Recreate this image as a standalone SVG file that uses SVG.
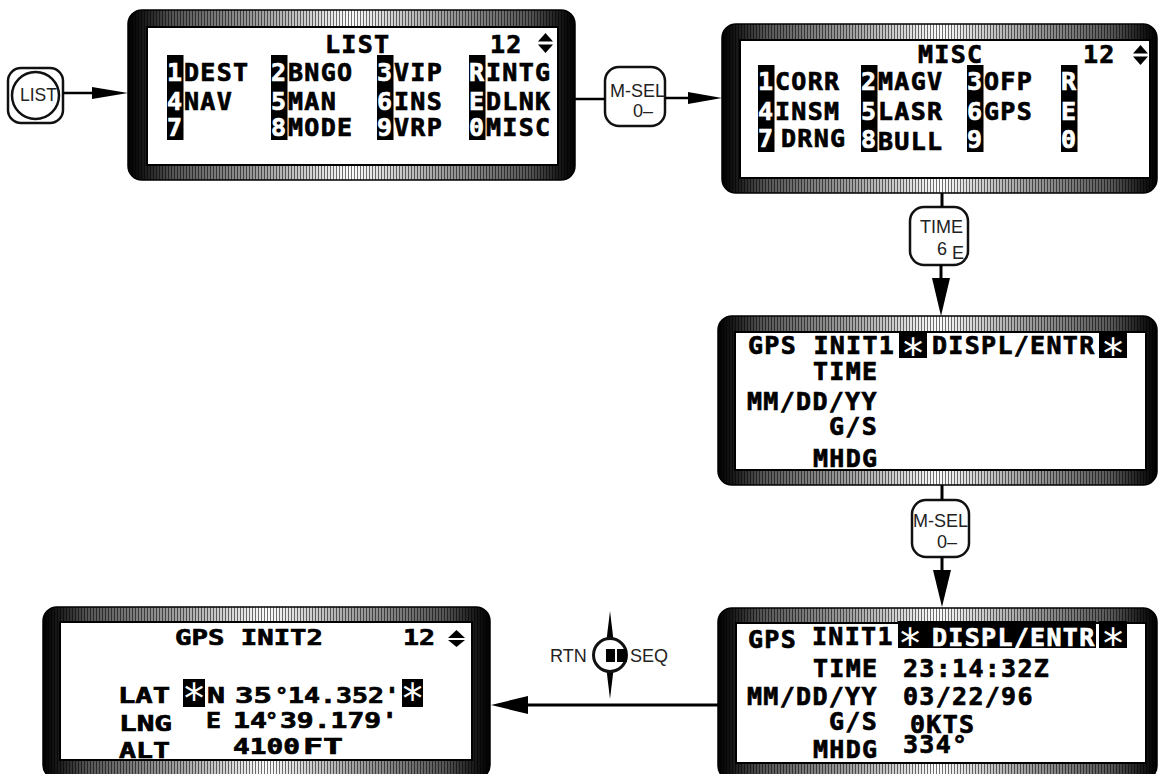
<svg xmlns="http://www.w3.org/2000/svg" width="1158" height="774" viewBox="0 0 1158 774">
<defs>
<linearGradient id="bezGrad" x1="0" y1="0" x2="1" y2="0">
<stop offset="0" stop-color="#000"/>
<stop offset="0.035" stop-color="#1a1a1a"/>
<stop offset="0.1" stop-color="#555"/>
<stop offset="0.3" stop-color="#a0a0a0"/>
<stop offset="0.5" stop-color="#fcfcfc"/>
<stop offset="0.7" stop-color="#a0a0a0"/>
<stop offset="0.9" stop-color="#555"/>
<stop offset="0.965" stop-color="#1a1a1a"/>
<stop offset="1" stop-color="#000"/>
</linearGradient>
<pattern id="stripes" width="3" height="10" patternUnits="userSpaceOnUse">
<rect x="0" y="0" width="1" height="10" fill="#000" fill-opacity="0.55"/>
</pattern>
<style>
.lcd{font-family:"DejaVu Sans Mono","Liberation Mono",monospace;font-weight:bold;font-size:25px;letter-spacing:1.3px;fill:#000;stroke:#000;stroke-width:0.7px}
.p5{font-family:"DejaVu Sans Mono","Liberation Mono",monospace;font-weight:bold;font-size:22px;fill:#000;stroke:#000;stroke-width:0.7px}
.inv{fill:#fff;stroke:#fff}
.ast{font-family:"DejaVu Sans Mono","Liberation Mono",monospace;font-size:40px;fill:#fff;text-anchor:middle}
.lbl{font-family:"Liberation Sans",Arial,sans-serif;font-size:18px;fill:#222}
.bez{fill:url(#bezGrad);stroke:#000;stroke-width:1.5}
.str{fill:url(#stripes)}
.scr{fill:#fff;stroke:#000;stroke-width:2}
.btn{fill:#fff;stroke:#111;stroke-width:2.5}
.ln{stroke:#000;stroke-width:2.5;fill:none}
.lnb{stroke:#000;stroke-width:3;fill:none}
.key{fill:#000}
.head{fill:#000}
</style>
</defs>
<rect width="1158" height="774" fill="#fff"/>

<g id="btn-list">
<rect class="btn" x="8" y="68" width="55" height="55" rx="13" stroke-width="3"/>
<circle cx="35.5" cy="95.5" r="23.5" fill="#fff" stroke="#111" stroke-width="2.5"/>
<text class="lbl" x="20" y="101" font-size="20" textLength="37" lengthAdjust="spacingAndGlyphs">LIST</text>
</g>

<g id="panel-list">
<rect class="bez" x="128" y="10" width="447" height="170" rx="14"/>
<rect class="str" x="128" y="10" width="447" height="170" rx="14"/>
<rect class="scr" x="147" y="27" width="411" height="138"/>
<text class="lcd" x="325" y="53">LIST</text>
<text class="lcd" x="490" y="53">12</text>
<polygon class="key" points="545.5,33 538,41.5 553,41.5"/>
<polygon class="key" points="538,44.5 553,44.5 545.5,53"/>
<rect class="key" x="167" y="55" width="16.5" height="85"/>
<rect class="key" x="271" y="55" width="16.5" height="85"/>
<rect class="key" x="377" y="55" width="16.5" height="85"/>
<rect class="key" x="469" y="55" width="16.5" height="85"/>
<text class="lcd inv" x="167" y="81">1</text><text class="lcd" x="184" y="81">DEST</text>
<text class="lcd inv" x="271" y="81">2</text><text class="lcd" x="288" y="81">BNGO</text>
<text class="lcd inv" x="377" y="81">3</text><text class="lcd" x="394" y="81">VIP</text>
<text class="lcd inv" x="469" y="81">R</text><text class="lcd" x="486" y="81">INTG</text>
<text class="lcd inv" x="167" y="110">4</text><text class="lcd" x="184" y="110">NAV</text>
<text class="lcd inv" x="271" y="110">5</text><text class="lcd" x="288" y="110">MAN</text>
<text class="lcd inv" x="377" y="110">6</text><text class="lcd" x="394" y="110">INS</text>
<text class="lcd inv" x="469" y="110">E</text><text class="lcd" x="486" y="110">DLNK</text>
<text class="lcd inv" x="167" y="136">7</text>
<text class="lcd inv" x="271" y="136">8</text><text class="lcd" x="288" y="136">MODE</text>
<text class="lcd inv" x="377" y="136">9</text><text class="lcd" x="394" y="136">VRP</text>
<text class="lcd inv" x="469" y="136">0</text><text class="lcd" x="486" y="136">MISC</text>
</g>

<g id="btn-msel-1">
<rect class="btn" x="605" y="67" width="60" height="59" rx="14"/>
<text class="lbl" x="610" y="97">M-SEL</text>
<text class="lbl" x="633" y="117">0–</text>
</g>

<g id="panel-misc">
<rect class="bez" x="722" y="24" width="435" height="169" rx="14"/>
<rect class="str" x="722" y="24" width="435" height="169" rx="14"/>
<rect class="scr" x="740" y="40" width="410" height="138"/>
<text class="lcd" x="918" y="63">MISC</text>
<text class="lcd" x="1083" y="63">12</text>
<polygon class="key" points="1140.5,45 1133,53.5 1148,53.5"/>
<polygon class="key" points="1133,56.5 1148,56.5 1140.5,65"/>
<rect class="key" x="758" y="65" width="16.5" height="87"/>
<rect class="key" x="861" y="65" width="16.5" height="87"/>
<rect class="key" x="967" y="65" width="16.5" height="87"/>
<rect class="key" x="1061" y="65" width="16.5" height="87"/>
<text class="lcd inv" x="758" y="90">1</text><text class="lcd" x="775" y="90">CORR</text>
<text class="lcd inv" x="861" y="90">2</text><text class="lcd" x="878" y="90">MAGV</text>
<text class="lcd inv" x="967" y="90">3</text><text class="lcd" x="984" y="90">OFP</text>
<text class="lcd inv" x="1061" y="90">R</text>
<text class="lcd inv" x="758" y="120">4</text><text class="lcd" x="775" y="120">INSM</text>
<text class="lcd inv" x="861" y="120">5</text><text class="lcd" x="878" y="120">LASR</text>
<text class="lcd inv" x="967" y="120">6</text><text class="lcd" x="984" y="120">GPS</text>
<text class="lcd inv" x="1061" y="120">E</text>
<text class="lcd inv" x="758" y="147">7</text><text class="lcd" x="781" y="147">DRNG</text>
<text class="lcd inv" x="861" y="148">8</text><text class="lcd" x="878" y="150">BULL</text>
<text class="lcd inv" x="967" y="148">9</text>
<text class="lcd inv" x="1061" y="148">0</text>
</g>

<g id="btn-time">
<rect class="btn" x="910" y="207" width="58" height="58" rx="14"/>
<text class="lbl" x="920" y="233">TIME</text>
<text class="lbl" x="937" y="255">6</text>
<text class="lbl" x="952" y="259" font-size="16">E</text>
</g>

<g id="panel-gps-init1">
<rect class="bez" x="718" y="316" width="439" height="169" rx="14"/>
<rect class="str" x="718" y="316" width="439" height="169" rx="14"/>
<rect class="scr" x="735" y="332" width="411" height="138"/>
<text class="lcd" x="748" y="354">GPS INIT1</text>
<rect class="key" x="899" y="332" width="28" height="26"/>
<text class="ast" x="913" y="368">*</text>
<text class="lcd" x="932" y="354">DISPL/ENTR</text>
<rect class="key" x="1099" y="332" width="28" height="26"/>
<text class="ast" x="1113" y="368">*</text>
<text class="lcd" x="813" y="380">TIME</text>
<text class="lcd" x="747" y="410">MM/DD/YY</text>
<text class="lcd" x="829" y="435">G/S</text>
<text class="lcd" x="813" y="467">MHDG</text>
</g>

<g id="btn-msel-2">
<rect class="btn" x="912" y="500" width="57" height="57" rx="14"/>
<text class="lbl" x="913" y="527">M-SEL</text>
<text class="lbl" x="937" y="548">0–</text>
</g>

<g id="panel-gps-init1-data">
<rect class="bez" x="718" y="608" width="439" height="172" rx="14"/>
<rect class="str" x="718" y="608" width="439" height="172" rx="14"/>
<rect class="scr" x="736" y="623" width="410" height="140"/>
<text class="lcd" x="748" y="648">GPS</text>
<text class="lcd" x="812" y="645">INIT1</text>
<rect class="key" x="898" y="621" width="198" height="27"/>
<text class="ast" x="910" y="658">*</text>
<text class="lcd inv" x="932" y="646">DISPL/ENTR</text>
<rect class="key" x="1099" y="621" width="28" height="27"/>
<text class="ast" x="1113" y="658">*</text>
<text class="lcd" x="813" y="677">TIME</text>
<text class="lcd" x="903" y="677">23:14:32Z</text>
<text class="lcd" x="747" y="705">MM/DD/YY</text>
<text class="lcd" x="903" y="705">03/22/96</text>
<text class="lcd" x="829" y="730">G/S</text>
<text class="lcd" x="910" y="733">0KTS</text>
<text class="lcd" x="813" y="758">MHDG</text>
<text class="lcd" x="903" y="753">334°</text>
</g>

<g id="ctrl-rtn-seq">
<polygon class="key" points="610,611 606.5,640 613.5,640"/>
<polygon class="key" points="606.5,670 613.5,670 610,699"/>
<circle cx="610" cy="655" r="16.5" fill="#fff" stroke="#111" stroke-width="3"/>
<rect class="key" x="606" y="649" width="9" height="13"/>
<rect class="key" x="617" y="649" width="10" height="13"/>
<text class="lbl" x="550" y="662" font-size="17">RTN</text>
<text class="lbl" x="630" y="662" font-size="17">SEQ</text>
</g>

<g id="panel-gps-init2">
<rect class="bez" x="43" y="607" width="447" height="172" rx="14"/>
<rect class="str" x="43" y="607" width="447" height="172" rx="14"/>
<rect class="scr" x="60" y="622" width="412" height="138"/>
<text class="p5" x="175" y="645" textLength="148" lengthAdjust="spacingAndGlyphs">GPS INIT2</text>
<text class="p5" x="403" y="645" textLength="32" lengthAdjust="spacingAndGlyphs">12</text>
<polygon class="key" points="456.5,630 448,638 465,638"/>
<polygon class="key" points="448,640 465,640 456.5,647"/>
<text class="p5" x="118" y="703" textLength="52" lengthAdjust="spacingAndGlyphs">LAT</text>
<rect class="key" x="183" y="679" width="22" height="28"/>
<text class="ast" x="194" y="713" font-size="34">*</text>
<text class="p5" x="207" y="703" textLength="18" lengthAdjust="spacingAndGlyphs">N</text>
<text class="p5" x="235" y="703" textLength="37" lengthAdjust="spacingAndGlyphs">35</text>
<text class="p5" x="275" y="703">°</text>
<text class="p5" x="288" y="703" textLength="112" lengthAdjust="spacingAndGlyphs">14.352'</text>
<rect class="key" x="402" y="679" width="21" height="28"/>
<text class="ast" x="412.5" y="713" font-size="34">*</text>
<text class="p5" x="119" y="731" textLength="53" lengthAdjust="spacingAndGlyphs">LNG</text>
<text class="p5" x="206" y="728" textLength="15" lengthAdjust="spacingAndGlyphs">E</text>
<text class="p5" x="233" y="728" textLength="34" lengthAdjust="spacingAndGlyphs">14</text>
<text class="p5" x="265" y="728">°</text>
<text class="p5" x="280" y="728" textLength="118" lengthAdjust="spacingAndGlyphs">39.179'</text>
<text class="p5" x="119" y="758" textLength="51" lengthAdjust="spacingAndGlyphs">ALT</text>
<text class="p5" x="233" y="754" textLength="67" lengthAdjust="spacingAndGlyphs">4100</text>
<text class="p5" x="303" y="754" textLength="40" lengthAdjust="spacingAndGlyphs">FT</text>
</g>

<g id="connectors">
<line class="ln" x1="63" y1="93" x2="93" y2="93"/>
<polygon class="head" points="92,87 128,93 92,99"/>
<line class="ln" x1="575" y1="99" x2="605" y2="99"/>
<line class="ln" x1="665" y1="98" x2="690" y2="98"/>
<polygon class="head" points="688,92 722,98 688,104"/>
<line class="lnb" x1="942" y1="193" x2="942" y2="207"/>
<line class="lnb" x1="941" y1="265" x2="941" y2="280"/>
<polygon class="head" points="932,278 941,316 950,278"/>
<line class="lnb" x1="942" y1="485" x2="942" y2="500"/>
<line class="lnb" x1="942" y1="557" x2="942" y2="572"/>
<polygon class="head" points="933,570 942,607 951,570"/>
<line class="lnb" x1="718" y1="705" x2="525" y2="705" stroke-width="3.5"/>
<polygon class="head" points="528,696 491,705 528,714"/>
</g>
</svg>
